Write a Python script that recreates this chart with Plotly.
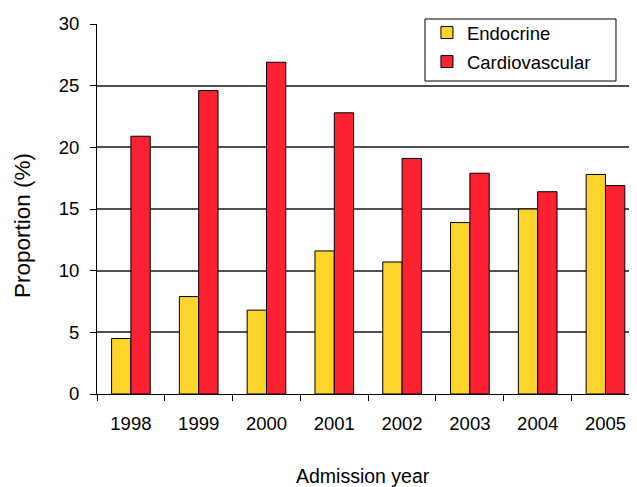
import plotly.graph_objects as go

years = ["1998", "1999", "2000", "2001", "2002", "2003", "2004", "2005"]
endocrine = [4.5, 7.9, 6.8, 11.6, 10.7, 13.9, 15.0, 17.8]
cardiovascular = [20.9, 24.6, 26.9, 22.8, 19.1, 17.9, 16.4, 16.9]

FONT = "Arial, Liberation Sans, sans-serif"

fig = go.Figure()
fig.add_trace(go.Bar(
    x=years, y=endocrine, name="Endocrine", legendgroup="a",
    marker=dict(color="#FDD42A", line=dict(color="black", width=1)),
))
fig.add_trace(go.Bar(
    x=years, y=cardiovascular, name="Cardiovascular", legendgroup="b",
    marker=dict(color="#FE2131", line=dict(color="black", width=1)),
))

# legend frame (white box hiding the gridline behind it)
fig.add_shape(
    type="rect", xref="paper", yref="paper",
    x0=0.6074, x1=0.9611, y0=0.8459, y1=1.0135,
    fillcolor="white", line=dict(color="black", width=1), layer="above",
)

# y-axis title (placed as in the reference, slightly below the plot centre)
fig.add_annotation(
    text="Proportion (%)", xref="paper", yref="paper",
    x=0, y=0.454, xanchor="center", yanchor="middle", xshift=-75,
    textangle=-90, showarrow=False,
    font=dict(family=FONT, size=22.5, color="black"),
)

# x-axis title, kept just inside the bottom edge
fig.add_annotation(
    text="Admission year", xref="paper", yref="paper",
    x=0.4926, y=-0.222, xanchor="center", yanchor="middle",
    showarrow=False,
    font=dict(family=FONT, size=19.5, color="black"),
)

fig.update_layout(
    width=629, height=479,
    margin=dict(l=89, r=0, t=16, b=93, autoexpand=False),
    paper_bgcolor="white", plot_bgcolor="white",
    barmode="group", bargap=0.43, bargroupgap=0,
    font=dict(family=FONT, size=18, color="black"),
    showlegend=True,
    legend=dict(
        x=0.611, y=1.027, xanchor="left", yanchor="top",
        bgcolor="rgba(0,0,0,0)", borderwidth=0,
        font=dict(family=FONT, size=18.5, color="black"),
        traceorder="grouped", tracegroupgap=2,
    ),
    xaxis=dict(
        type="category", range=[-0.5, 7.465],
        showline=True, linecolor="black", linewidth=1,
        ticks="outside", tickson="boundaries", ticklen=6, tickcolor="black",
        showgrid=False, ticklabelstandoff=13,
        tickfont=dict(family=FONT, size=18.5),
    ),
    yaxis=dict(
        range=[0, 30], dtick=5, tick0=0,
        showline=True, linecolor="black", linewidth=1,
        ticks="outside", ticklen=6, tickcolor="black",
        showgrid=True, gridcolor="#505050", gridwidth=1.5,
        zeroline=False, ticklabelstandoff=7,
        tickfont=dict(family=FONT, size=18.5),
    ),
)

fig.write_html("out.html")
